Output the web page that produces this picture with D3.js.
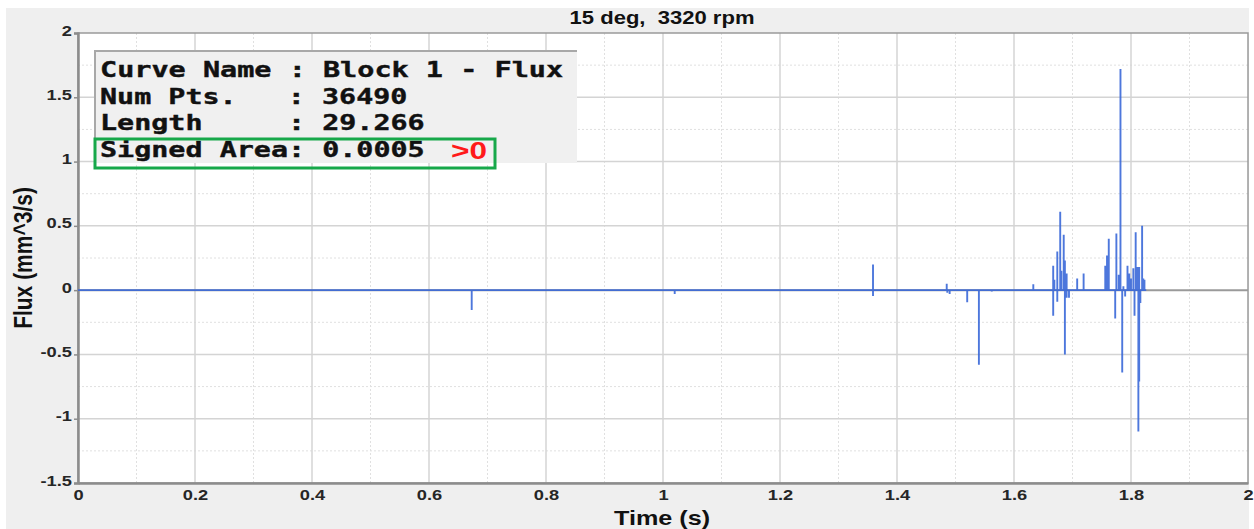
<!DOCTYPE html>
<html>
<head>
<meta charset="utf-8">
<script src="https://cdn.jsdelivr.net/npm/d3@7"></script>
<style>
  html, body { margin: 0; padding: 0; background: #ffffff; }
  svg { display: block; }
</style>
</head>
<body>
<svg id="chart" width="1254" height="529"></svg>
<script>
// ---- data -------------------------------------------------------------
const chartTitle = "15 deg,  3320 rpm";
const xLabel = "Time (s)";
const yLabel = "Flux (mm^3/s)";
const xTicks = [0, 0.2, 0.4, 0.6, 0.8, 1, 1.2, 1.4, 1.6, 1.8, 2];
const yTicks = [-1.5, -1, -0.5, 0, 0.5, 1, 1.5, 2];

// Flux trace: flat at zero between short spikes (time s, flux mm^3/s)
const seriesStart = 0;
const seriesEnd = 1.826;
const spikeTime = [
  0.673, 1.020, 1.359, 1.359, 1.485, 1.486, 1.490, 1.520, 1.540, 1.562, 1.633,
  1.667, 1.667, 1.669, 1.674, 1.674, 1.679, 1.681, 1.685, 1.687, 1.687,
  1.690, 1.690, 1.694, 1.708, 1.719,
  1.756, 1.759, 1.762, 1.773, 1.775, 1.779, 1.782, 1.785, 1.787, 1.790,
  1.794, 1.797, 1.800, 1.804, 1.806, 1.808, 1.811, 1.8126, 1.814, 1.814,
  1.816, 1.819, 1.821, 1.823
];
const spikeValue = [
  -0.155, -0.03, 0.20, -0.045, 0.05, -0.02, -0.03, -0.095, -0.58, -0.01, 0.045,
  0.19, -0.20, 0.08, 0.30, -0.09, 0.61, 0.15, 0.43, 0.23, -0.50,
  0.13, -0.06, -0.06, 0.09, 0.13,
  0.19, 0.27, 0.40, -0.22, 0.44, 0.12, 1.72, -0.64, 0.03, -0.05,
  0.19, 0.13, 0.09, 0.17, -0.20, 0.45, 0.18, -1.10, -0.71, 0.18,
  -0.10, 0.50, 0.09, 0.08
];

// Info panel lines
const infoLines = [
  "Curve Name : Block 1 - Flux",
  "Num Pts.   : 36490",
  "Length     : 29.266",
  "Signed Area: 0.0005"
];
const infoFlag = ">0";

// ---- layout -----------------------------------------------------------
const W = 1254, H = 529;
const plot = { left: 78, right: 1248, top: 33, bottom: 483 };
const stretch = 1.26;   // horizontal stretch of the lettering
const sans = "'Liberation Sans', Arial, sans-serif";
const mono = "'DejaVu Sans Mono', 'Liberation Mono', monospace";

const svg = d3.select("#chart");

const x = d3.scaleLinear().domain([0, 2]).range([plot.left, plot.right]);
const y = d3.scaleLinear().domain([-1.5, 2]).range([plot.bottom, plot.top]);

// panel backgrounds
svg.append("rect").attr("x", 0).attr("y", 0).attr("width", W).attr("height", H).attr("fill", "#ffffff");
svg.append("rect").attr("x", 6).attr("y", 8).attr("width", 1243).attr("height", H - 8).attr("fill", "#efefef");
svg.append("rect").attr("x", plot.left).attr("y", plot.top)
  .attr("width", plot.right - plot.left).attr("height", plot.bottom - plot.top)
  .attr("fill", "#ffffff");

// grid: dotted minor lines, solid major lines
const grid = svg.append("g");
const xMinor = d3.range(1, 20, 2).map(i => i / 10);
const yMinor = d3.range(-5, 8, 2).map(i => i / 4);
grid.selectAll(".xmin").data(xMinor).join("line")
  .attr("x1", d => x(d)).attr("x2", d => x(d))
  .attr("y1", plot.top).attr("y2", plot.bottom)
  .attr("stroke", "#e0e0e0").attr("stroke-width", 1).attr("stroke-dasharray", "2,2");
grid.selectAll(".ymin").data(yMinor).join("line")
  .attr("x1", plot.left).attr("x2", plot.right)
  .attr("y1", d => y(d)).attr("y2", d => y(d))
  .attr("stroke", "#e0e0e0").attr("stroke-width", 1).attr("stroke-dasharray", "2,2");
grid.selectAll(".xmaj").data(xTicks.slice(1, -1)).join("line")
  .attr("x1", d => x(d)).attr("x2", d => x(d))
  .attr("y1", plot.top).attr("y2", plot.bottom)
  .attr("stroke", "#d4d4d4").attr("stroke-width", 1.5);
grid.selectAll(".ymaj").data(yTicks.slice(1, -1)).join("line")
  .attr("x1", plot.left).attr("x2", plot.right)
  .attr("y1", d => y(d)).attr("y2", d => y(d))
  .attr("stroke", d => d === 0 ? "#9a9a9a" : "#d4d4d4")
  .attr("stroke-width", d => d === 0 ? 2 : 1.5);

// frame
svg.append("rect").attr("x", plot.left).attr("y", plot.top)
  .attr("width", plot.right - plot.left).attr("height", plot.bottom - plot.top)
  .attr("fill", "none").attr("stroke", "#9a9a9a").attr("stroke-width", 1.5);

// axes
const fmt = d => String(d);
const xAxis = svg.append("g").attr("transform", `translate(0,${plot.bottom})`)
  .call(d3.axisBottom(x).tickValues(xTicks).tickSize(0).tickPadding(4).tickFormat(fmt));
const yAxis = svg.append("g").attr("transform", `translate(${plot.left},0)`)
  .call(d3.axisLeft(y).tickValues(yTicks).tickSize(4).tickPadding(2).tickFormat(fmt));
[xAxis, yAxis].forEach(a => {
  a.select(".domain").attr("stroke", "#8c8c8c").attr("stroke-width", 2.5);
  a.selectAll(".tick line").attr("stroke", "#8c8c8c").attr("stroke-width", 1.5);
  a.selectAll(".tick text").attr("fill", "#262626").attr("font-size", 14.5).attr("font-weight", "bold")
    .style("font-family", sans);
});
// stretch tick labels horizontally about their anchor
xAxis.selectAll(".tick text").attr("transform", "scale(" + stretch + ",1)").attr("dy", "0.9em");
yAxis.selectAll(".tick text")
  .attr("x", null)
  .attr("transform", "translate(-6,-3) scale(" + stretch + ",1)")
  .attr("dy", "0.35em")
  .attr("text-anchor", "end");

// flux trace
const pts = [[seriesStart, 0]];
spikeTime.forEach((t, i) => {
  pts.push([t, 0], [t, spikeValue[i]], [t, 0]);
});
pts.push([seriesEnd, 0]);
const line = d3.line().x(d => x(d[0])).y(d => y(d[1]));
svg.append("path").datum(pts)
  .attr("d", line)
  .attr("fill", "none")
  .attr("stroke", "#3a68d8")
  .attr("stroke-width", 1.9)
  .attr("stroke-opacity", 0.9);

// titles
function stretchedText(tx, ty, str, size, anchor, extra) {
  return svg.append("text")
    .attr("transform", `translate(${tx},${ty}) scale(${stretch},1)` + (extra || ""))
    .attr("text-anchor", anchor)
    .attr("font-size", size)
    .attr("font-weight", "bold")
    .attr("fill", "#111")
    .style("font-family", sans)
    .style("white-space", "pre")
    .text(str);
}
stretchedText(662, 24, chartTitle, 17.5, "middle");
stretchedText(662, 525, xLabel, 20, "middle");
stretchedText(32, 258, yLabel, 21, "middle", " rotate(-90)");

// info panel
const info = svg.append("g");
info.append("rect").attr("x", 95).attr("y", 51).attr("width", 482).attr("height", 112).attr("fill", "#f0f0f0");
info.append("path").attr("d", "M95,163 V51 H577")
  .attr("fill", "none").attr("stroke", "#a8a8a8").attr("stroke-width", 2);
const charW = 17.3;
info.selectAll(".info").data(infoLines).join("text")
  .attr("x", 100)
  .attr("y", (d, i) => [77, 104, 130, 157][i])
  .style("font-family", mono)
  .attr("font-weight", "bold")
  .attr("font-size", 21)
  .attr("fill", "#111")
  .attr("stroke", "#111").attr("stroke-width", 0.4)
  .attr("textLength", d => d.length * charW - 4)
  .attr("lengthAdjust", "spacingAndGlyphs")
  .style("white-space", "pre")
  .text(d => d);
info.append("text")
  .attr("x", 451).attr("y", 159)
  .style("font-family", sans)
  .attr("font-size", 23).attr("font-weight", "bold")
  .attr("fill", "#ff1a1a")
  .attr("textLength", 36).attr("lengthAdjust", "spacingAndGlyphs")
  .text(infoFlag);
info.append("rect").attr("x", 95).attr("y", 139).attr("width", 400).attr("height", 29)
  .attr("fill", "none").attr("stroke", "#17a84a").attr("stroke-width", 3);
</script>
</body>
</html>
